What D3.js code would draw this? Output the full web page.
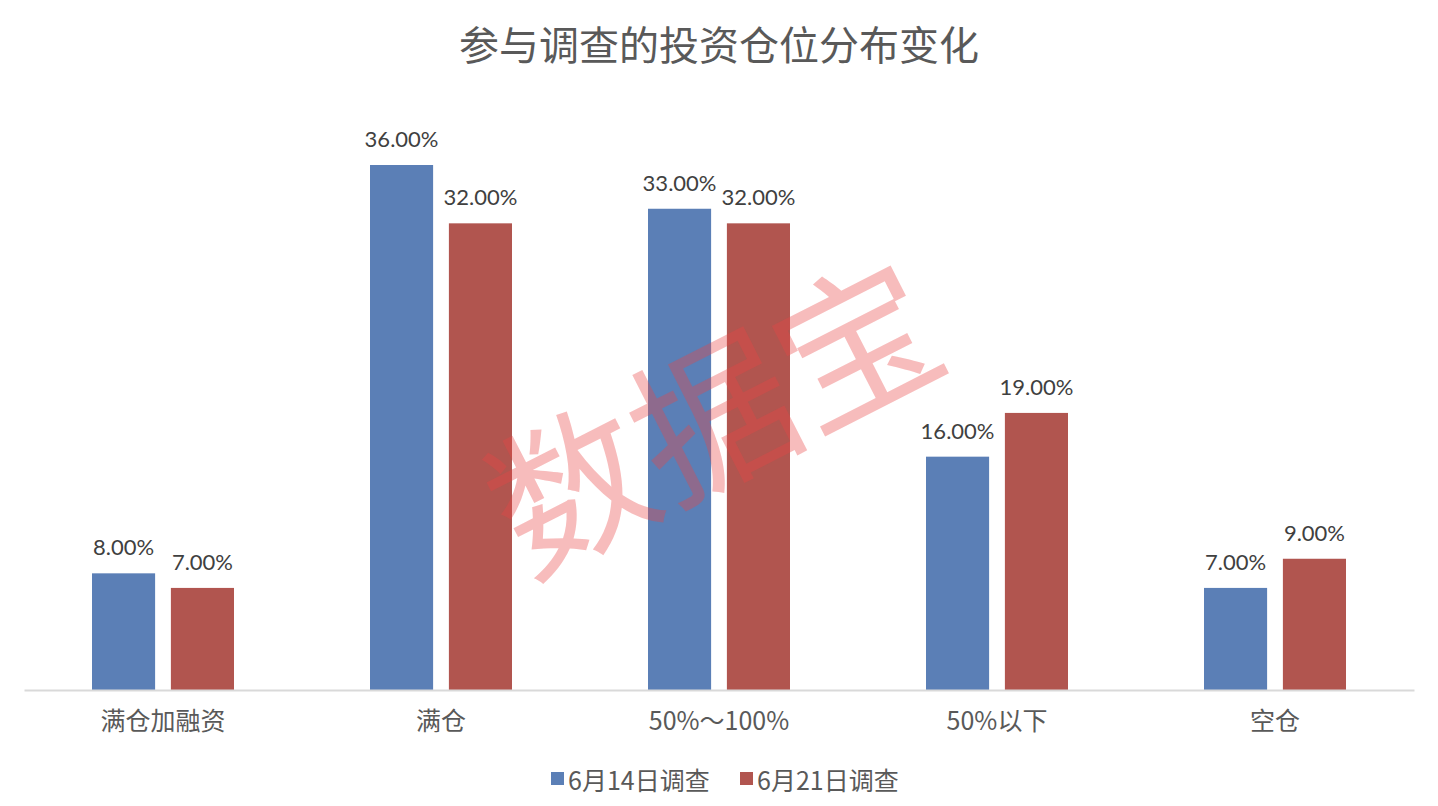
<!DOCTYPE html>
<html>
<head>
<meta charset="utf-8">
<script src="https://cdn.jsdelivr.net/npm/d3@7/dist/d3.min.js"></script>
<style>
html,body{margin:0;padding:0;background:#fff;}
svg{display:block;}
</style>
</head>
<body>
<svg id="chart" width="1438" height="806"></svg>
<script>
const title = "参与调查的投资仓位分布变化";
const categories = ["满仓加融资", "满仓", "50%～100%", "50%以下", "空仓"];
const seriesNames = ["6月14日调查", "6月21日调查"];
const june14 = [8, 36, 33, 16, 7];
const june21 = [7, 32, 32, 19, 9];
const colors = ["#5b7fb6", "#b1554f"];
const watermark = "数据宝";

const svg = d3.select("#chart");
const baseY = 690, left = 24, right = 1414;

const data = categories.map((c, i) => ({cat: c, vals: [june14[i], june21[i]]}));

const x0 = d3.scaleBand().domain(categories).range([left, right]).padding(0);
const x1 = d3.scaleBand().domain(seriesNames).range([68, 210]).paddingInner(0.2).paddingOuter(0);
const y = d3.scaleLinear().domain([0, 36]).range([baseY, 165]);

// title
svg.append("text")
  .attr("x", 719).attr("y", 60)
  .attr("text-anchor", "middle")
  .attr("font-family", "'Noto Sans CJK SC', sans-serif")
  .attr("font-size", 40)
  .attr("fill", "#595959")
  .text(title);

// bars
const groups = svg.append("g").selectAll("g.grp").data(data).join("g")
  .attr("class", "grp")
  .attr("transform", d => `translate(${x0(d.cat)},0)`);

const items = d => d.vals.map((v, j) => ({v, s: seriesNames[j], j}));

groups.selectAll("rect").data(items)
  .join("rect")
  .attr("x", d => x1(d.s))
  .attr("y", d => y(d.v))
  .attr("width", x1.bandwidth())
  .attr("height", d => baseY - y(d.v))
  .attr("fill", d => colors[d.j]);

groups.selectAll("text.lbl").data(items)
  .join("text")
  .attr("class", "lbl")
  .attr("x", d => x1(d.s) + x1.bandwidth() / 2)
  .attr("y", d => y(d.v) - 18)
  .attr("text-anchor", "middle")
  .attr("font-family", "Lato, 'Open Sans', sans-serif")
  .attr("font-size", 22)
  .attr("fill", "#404040")
  .text(d => d.v.toFixed(2) + "%");

// x axis
const xAxis = d3.axisBottom(x0).tickSize(0).tickPadding(22);
const ax = svg.append("g").attr("transform", `translate(0,${baseY})`).call(xAxis);
ax.select(".domain").attr("stroke", "#d9d9d9").attr("stroke-width", 2);
ax.selectAll(".tick text")
  .attr("font-family", "'Noto Sans CJK SC', sans-serif")
  .attr("font-size", 25)
  .attr("fill", "#595959");

// watermark
const wm = svg.append("g")
  .attr("transform", "translate(709,408) rotate(-27)")
  .attr("pointer-events", "none");
wm.append("text")
  .attr("x", 0).attr("y", 0)
  .attr("text-anchor", "middle")
  .attr("dominant-baseline", "central")
  .attr("font-family", "'Noto Sans CJK SC', sans-serif")
  .attr("font-size", 160)
  .attr("fill", "rgba(232,70,70,0.36)")
  .text(watermark);

// legend
const legend = svg.append("g").attr("transform", "translate(0,779)");
const legendX = [551, 740];
seriesNames.forEach((s, i) => {
  const lg = legend.append("g").attr("transform", `translate(${legendX[i]},0)`);
  lg.append("rect").attr("x", 0).attr("y", -7).attr("width", 13).attr("height", 13).attr("fill", colors[i]);
  lg.append("text").attr("x", 17).attr("y", 0)
    .attr("dominant-baseline", "central")
    .attr("font-family", "'Noto Sans CJK SC', sans-serif")
    .attr("font-size", 25)
    .attr("fill", "#595959")
    .text(s);
});
</script>
</body>
</html>
